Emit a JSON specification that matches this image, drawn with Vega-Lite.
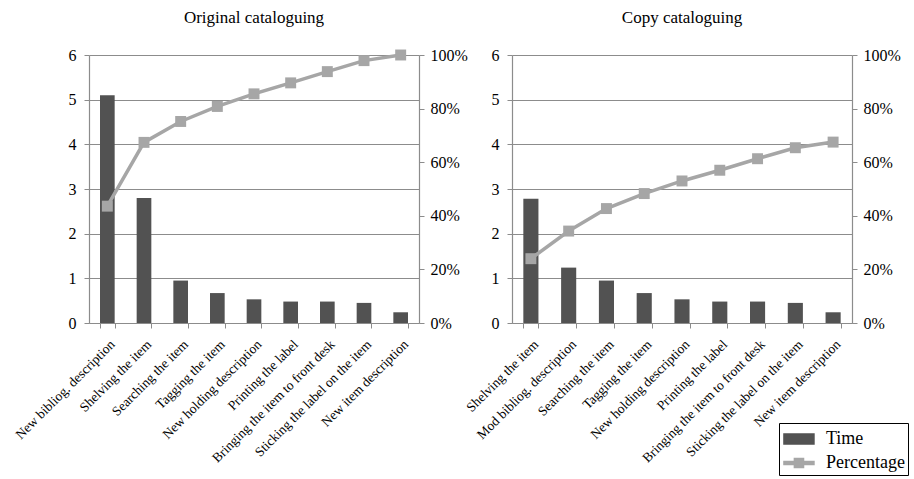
{
  "$schema": "https://vega.github.io/schema/vega-lite/v6.json",
  "background": "white",
  "padding": {"left": 12, "top": 9, "right": 5, "bottom": 5},
  "config": {
    "font": "Liberation Serif",
    "view": {"stroke": null},
    "title": {"font": "Liberation Serif", "fontSize": 17, "fontWeight": "normal", "color": "black", "offset": 20},
    "axis": {
      "labelFont": "Liberation Serif",
      "labelColor": "black",
      "domainColor": "#8c8c8c",
      "tickColor": "#8c8c8c",
      "gridColor": "#8c8c8c",
      "gridOpacity": 1,
      "domainWidth": 1.2,
      "gridWidth": 1.2,
      "title": null
    },
    "legend": {"labelFont": "Liberation Serif", "labelFontSize": 18, "labelColor": "black"}
  },
  "datasets": {
    "orig": [
      {"task": "New bibliog. description", "time": 5.1, "pct": 0.436},
      {"task": "Shelving the item", "time": 2.8, "pct": 0.674},
      {"task": "Searching the item", "time": 0.95, "pct": 0.752},
      {"task": "Tagging the item", "time": 0.67, "pct": 0.808},
      {"task": "New holding description", "time": 0.53, "pct": 0.855},
      {"task": "Printing the label", "time": 0.48, "pct": 0.896},
      {"task": "Bringing the item to front desk", "time": 0.48, "pct": 0.938},
      {"task": "Sticking the label on the item", "time": 0.45, "pct": 0.979},
      {"task": "New item description", "time": 0.24, "pct": 1.0}
    ],
    "copy": [
      {"task": "Shelving the item", "time": 2.78, "pct": 0.24},
      {"task": "Mod bibliog. description", "time": 1.24, "pct": 0.343},
      {"task": "Searching the item", "time": 0.95, "pct": 0.427},
      {"task": "Tagging the item", "time": 0.67, "pct": 0.483},
      {"task": "New holding description", "time": 0.53, "pct": 0.53},
      {"task": "Printing the label", "time": 0.48, "pct": 0.57},
      {"task": "Bringing the item to front desk", "time": 0.48, "pct": 0.613},
      {"task": "Sticking the label on the item", "time": 0.45, "pct": 0.654},
      {"task": "New item description", "time": 0.24, "pct": 0.675}
    ]
  },
  "spacing": -5,
  "hconcat": [
    {
      "title": {"text": "Original cataloguing"},
      "width": 330,
      "height": 268,
      "data": {"name": "orig"},
      "encoding": {
        "x": {
          "field": "task", "type": "nominal", "sort": null,
          "scale": {"paddingInner": 0.6, "paddingOuter": 0.3},
          "axis": {"labelFont": "Liberation Serif", "labelAngle": -45, "labelAlign": "right", "labelBaseline": "top", "labelFontSize": 13.5, "tickBand": "extent", "tickSize": 5, "labelPadding": 9, "labelLimit": 300}
        }
      },
      "layer": [
        {
          "mark": {"type": "bar", "color": "#525252"},
          "encoding": {
            "y": {"field": "time", "type": "quantitative", "scale": {"domain": [0, 6]},
                  "axis": {"labelFont": "Liberation Serif", "values": [0, 1, 2, 3, 4, 5, 6], "grid": true, "labelFontSize": 16, "tickSize": 5, "labelPadding": 8}},
            "color": {"datum": "Time", "scale": {"domain": ["Time", "Percentage"], "range": ["#525252", "#a6a6a6"]}}
          }
        },
        {
          "encoding": {
            "y": {"field": "pct", "type": "quantitative", "scale": {"domain": [0, 1]},
                  "axis": {"labelFont": "Liberation Serif", "orient": "right", "format": ".0%", "values": [0, 0.2, 0.4, 0.6, 0.8, 1], "grid": false, "labelFontSize": 16, "tickSize": 5, "labelPadding": 6}},
            "color": {"datum": "Percentage"}
          },
          "layer": [
            {"mark": {"type": "line", "strokeWidth": 3.5}},
            {"mark": {"type": "point", "shape": "square", "filled": true, "size": 120, "opacity": 1}}
          ]
        }
      ],
      "resolve": {"scale": {"y": "independent"}}
    },
    {
      "title": {"text": "Copy cataloguing"},
      "width": 340,
      "height": 268,
      "data": {"name": "copy"},
      "encoding": {
        "x": {
          "field": "task", "type": "nominal", "sort": null,
          "scale": {"paddingInner": 0.6, "paddingOuter": 0.3},
          "axis": {"labelFont": "Liberation Serif", "labelAngle": -45, "labelAlign": "right", "labelBaseline": "top", "labelFontSize": 13.5, "tickBand": "extent", "tickSize": 5, "labelPadding": 9, "labelLimit": 300}
        }
      },
      "layer": [
        {
          "mark": {"type": "bar", "color": "#525252"},
          "encoding": {
            "y": {"field": "time", "type": "quantitative", "scale": {"domain": [0, 6]},
                  "axis": {"labelFont": "Liberation Serif", "values": [0, 1, 2, 3, 4, 5, 6], "grid": true, "labelFontSize": 16, "tickSize": 5, "labelPadding": 8}},
            "color": {
              "datum": "Time",
              "scale": {"domain": ["Time", "Percentage"], "range": ["#525252", "#a6a6a6"]},
              "legend": {
                "title": null,
                "orient": "none",
                "legendX": 690,
                "legendY": 368,
                "strokeColor": "black",
                "padding": 3,
                "symbolSize": 576,
                "rowPadding": 2,
                "labelOffset": 18,
                "encode": {
                  "symbols": {
                    "update": {
                      "shape": {"signal": "datum.value === 'Time' ? 'M-0.92,-0.42H1.58V0.42H-0.92Z' : 'M-0.92,-0.12H1.58V0.12H-0.92Z M-0.05,-0.38H0.71V0.38H-0.05Z'"},
                      "fill": {"signal": "datum.value === 'Time' ? '#525252' : '#a6a6a6'"},
                      "stroke": {"value": "transparent"},
                      "opacity": {"value": 1},
                      "fillOpacity": {"value": 1}
                    }
                  }
                }
              }
            }
          }
        },
        {
          "encoding": {
            "y": {"field": "pct", "type": "quantitative", "scale": {"domain": [0, 1]},
                  "axis": {"labelFont": "Liberation Serif", "orient": "right", "format": ".0%", "values": [0, 0.2, 0.4, 0.6, 0.8, 1], "grid": false, "labelFontSize": 16, "tickSize": 5, "labelPadding": 6}},
            "color": {"datum": "Percentage"}
          },
          "layer": [
            {"mark": {"type": "line", "strokeWidth": 3.5}},
            {"mark": {"type": "point", "shape": "square", "filled": true, "size": 120, "opacity": 1}}
          ]
        }
      ],
      "resolve": {"scale": {"y": "independent"}}
    }
  ]
}
